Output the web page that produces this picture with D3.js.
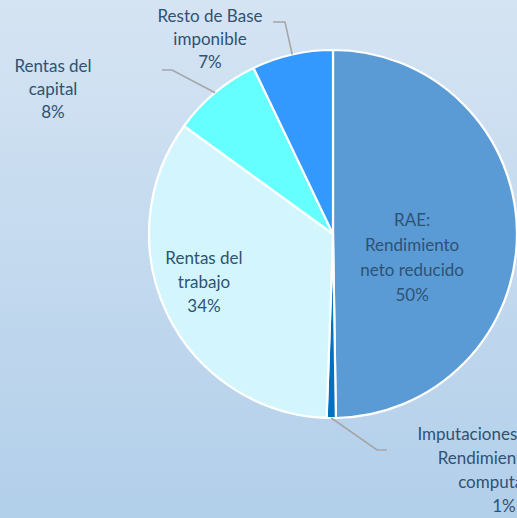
<!DOCTYPE html>
<html>
<head>
<meta charset="utf-8">
<script src="https://cdn.jsdelivr.net/npm/d3@7"></script>
<style>
  html, body { margin: 0; padding: 0; overflow: hidden; }
  svg { display: block; }
</style>
</head>
<body>
<div id="chart"></div>
<script>
// categories, values, colours
var categories = ["RAE", "Imputaciones", "Rentas del trabajo", "Rentas del capital", "Resto de Base imponible"];
var values = [49.7, 0.8, 34.4, 7.9, 7.1];
var pctLabels = ["50%", "1%", "34%", "8%", "7%"];
var labelLines = [
  ["RAE:", "Rendimiento", "neto reducido"],
  ["Imputaciones de rentas", "Rendimiento neto", "computados"],
  ["Rentas del", "trabajo"],
  ["Rentas del", "capital"],
  ["Resto de Base", "imponible"]
];
var colors = ["#5B9BD5", "#0070C0", "#D3F6FE", "#66FFFF", "#3399FF"];

var width = 517, height = 518;
var cx = 333, cy = 234, R = 184;

// label layout: inside labels use a radius + shift, outside labels use a leader
var layout = [
  {inside: true, k: 0.43, dx: 0, dy: 24, lh: 25},
  {inside: false, elbow: [377, 450], end: [387, 450], tx: 504, ty: 440, lh: 24},
  {inside: true, k: 0.72, dx: -10, dy: -10, lh: 24},
  {inside: false, elbow: [172, 70], end: [162, 70], tx: 53, ty: 72, lh: 23},
  {inside: false, elbow: [285, 22], end: [273, 22], tx: 210, ty: 22, lh: 23}
];

var svg = d3.select("#chart").append("svg")
    .attr("width", width)
    .attr("height", height);

var grad = svg.append("defs").append("linearGradient")
    .attr("id", "bg").attr("x1", 0).attr("y1", 0).attr("x2", 0).attr("y2", 1);
grad.append("stop").attr("offset", "0%").attr("stop-color", "#D5E4F3");
grad.append("stop").attr("offset", "100%").attr("stop-color", "#B2CFEA");

svg.append("rect")
    .attr("width", width).attr("height", height)
    .attr("fill", "url(#bg)");

var pie = d3.pie().sort(null).value(d => d);
var arcs = pie(values);

var arc = d3.arc().innerRadius(0).outerRadius(R);

var g = svg.append("g").attr("transform", "translate(" + cx + "," + cy + ")");

g.selectAll("path.slice")
  .data(arcs)
  .enter().append("path")
    .attr("class", "slice")
    .attr("d", arc)
    .attr("fill", (d, i) => colors[i])
    .attr("stroke", "#fff")
    .attr("stroke-width", 2.2)
    .attr("stroke-linejoin", "round");

var textColor = "#2E5274";
var font = "Lato, 'Open Sans', sans-serif";

arcs.forEach(function(d, i) {
  var L = layout[i];
  var lines = labelLines[i].concat([pctLabels[i]]);
  if (L.inside) {
    var c = d3.arc().innerRadius(R * L.k).outerRadius(R * L.k).centroid(d);
    var x = cx + c[0] + L.dx;
    var y0 = cy + c[1] + L.dy - (lines.length - 1) * L.lh / 2 + 6;
    lines.forEach(function(t, j) {
      svg.append("text")
        .attr("x", x).attr("y", y0 + j * L.lh)
        .attr("text-anchor", "middle")
        .attr("font-family", font).attr("font-size", 17)
        .attr("fill", textColor)
        .text(t);
    });
  } else {
    var p = d3.arc().innerRadius(R).outerRadius(R).centroid(d);
    svg.append("polyline")
      .attr("points", [[cx + p[0], cy + p[1]], L.elbow, L.end].map(q => q.join(",")).join(" "))
      .attr("fill", "none")
      .attr("stroke", "#A6A6A6")
      .attr("stroke-width", 1.6);
    lines.forEach(function(t, j) {
      svg.append("text")
        .attr("x", L.tx).attr("y", L.ty + j * L.lh)
        .attr("text-anchor", "middle")
        .attr("font-family", font).attr("font-size", 17)
        .attr("fill", textColor)
        .text(t);
    });
  }
});
</script>
</body>
</html>
